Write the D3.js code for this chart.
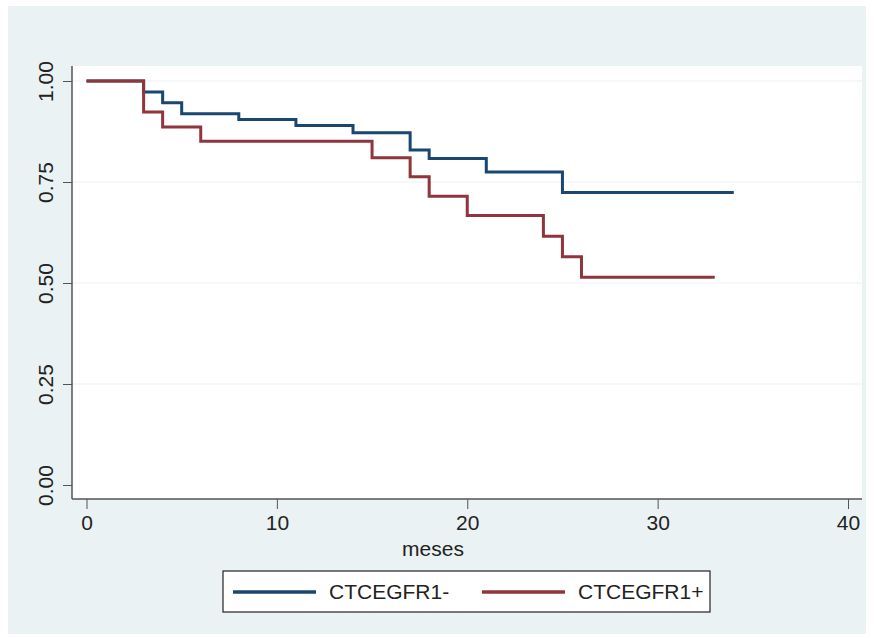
<!DOCTYPE html>
<html>
<head>
<meta charset="utf-8">
<script src="https://cdn.jsdelivr.net/npm/d3@7"></script>
<style>
  html, body { margin: 0; padding: 0; background: #ffffff; }
  svg text { font-family: "Liberation Sans", Arial, sans-serif; }
</style>
</head>
<body>
<svg id="chart" width="874" height="638"></svg>
<script>
// Data (Kaplan-Meier step curves)
const seriesNames = ["CTCEGFR1-", "CTCEGFR1+"];
const negTimes = [0, 3, 4, 5, 8, 11, 14, 17, 18, 21, 25, 34];
const negSurv  = [1.00, 0.973, 0.946, 0.919, 0.905, 0.890, 0.872, 0.829, 0.808, 0.775, 0.724, 0.724];
const posTimes = [0, 3, 4, 6, 15, 17, 18, 20, 24, 25, 26, 33];
const posSurv  = [1.00, 0.923, 0.886, 0.851, 0.810, 0.763, 0.715, 0.667, 0.616, 0.565, 0.514, 0.514];
const xTicks = [0, 10, 20, 30, 40];
const yTicks = [0, 0.25, 0.5, 0.75, 1.0];
const xLabel = "meses";
const colors = ["#1a476f", "#90353b"];

const svg = d3.select("#chart");

// outer background
svg.append("rect").attr("x", 8).attr("y", 6).attr("width", 858).attr("height", 628).attr("fill", "#eaf2f3");

const plot = { left: 72, right: 862, top: 66, bottom: 499 };
svg.append("rect").attr("x", plot.left).attr("y", plot.top)
  .attr("width", plot.right - plot.left).attr("height", plot.bottom - plot.top).attr("fill", "#ffffff");

const x = d3.scaleLinear().domain([0, 40]).range([86.5, 848]);
const y = d3.scaleLinear().domain([0, 1]).range([485, 81]);

// gridlines
svg.append("g").selectAll("line").data(yTicks.filter(d => d > 0)).join("line")
  .attr("x1", plot.left).attr("x2", plot.right)
  .attr("y1", d => y(d)).attr("y2", d => y(d))
  .attr("stroke", "#eaf2f3").attr("stroke-width", 1.2);

// y axis
const yAxis = d3.axisLeft(y).tickValues(yTicks).tickFormat(d3.format(".2f")).tickSize(9).tickPadding(0);
const gy = svg.append("g").attr("transform", `translate(${plot.left},0)`).call(yAxis);
gy.select(".domain").remove();
gy.selectAll(".tick line").attr("stroke", "#555").attr("stroke-width", 1);
gy.selectAll(".tick text").remove();
gy.selectAll(".tick").append("text")
  .attr("transform", "translate(-26.5,0) rotate(-90)")
  .attr("text-anchor", "middle")
  .attr("dy", "0.35em")
  .attr("fill", "#222")
  .style("font-size", "21px")
  .text(d => d3.format(".2f")(d));
svg.append("line").attr("x1", plot.left).attr("x2", plot.left)
  .attr("y1", plot.top).attr("y2", plot.bottom).attr("stroke", "#555").attr("stroke-width", 1.5);

// x axis
const xAxis = d3.axisBottom(x).tickValues(xTicks).tickFormat(d3.format("d")).tickSize(10).tickPadding(6);
const gx = svg.append("g").attr("transform", `translate(0,${plot.bottom})`).call(xAxis);
gx.select(".domain").remove();
gx.selectAll(".tick line").attr("stroke", "#555").attr("stroke-width", 1);
gx.selectAll(".tick text").attr("fill", "#222").style("font-size", "21px");
svg.append("line").attr("x1", plot.left).attr("x2", plot.right)
  .attr("y1", plot.bottom).attr("y2", plot.bottom).attr("stroke", "#555").attr("stroke-width", 1.5);

svg.append("text").attr("x", 433).attr("y", 556).attr("text-anchor", "middle")
  .attr("fill", "#222").style("font-size", "21px").text(xLabel);

// curves
const line = d3.line().x(d => x(d[0])).y(d => y(d[1])).curve(d3.curveStepAfter);
const series = [
  { name: seriesNames[0], pts: negTimes.map((t, i) => [t, negSurv[i]]), color: colors[0] },
  { name: seriesNames[1], pts: posTimes.map((t, i) => [t, posSurv[i]]), color: colors[1] }
];
[series[0], series[1]].forEach(s => {
  svg.append("path").attr("d", line(s.pts)).attr("fill", "none")
    .attr("stroke", s.color).attr("stroke-width", 3).attr("stroke-linejoin", "miter");
});

// legend
const lg = svg.append("g");
lg.append("rect").attr("x", 223).attr("y", 571).attr("width", 487).attr("height", 41)
  .attr("fill", "#ffffff").attr("stroke", "#222").attr("stroke-width", 1.2);
const legendItems = [
  { x0: 233, x1: 316, tx: 329, s: series[0] },
  { x0: 482, x1: 565, tx: 578, s: series[1] }
];
legendItems.forEach(li => {
  lg.append("line").attr("x1", li.x0).attr("x2", li.x1).attr("y1", 592).attr("y2", 592)
    .attr("stroke", li.s.color).attr("stroke-width", 3.5);
  lg.append("text").attr("x", li.tx).attr("y", 599).attr("fill", "#222")
    .style("font-size", "21px").text(li.s.name);
});
</script>
</body>
</html>
